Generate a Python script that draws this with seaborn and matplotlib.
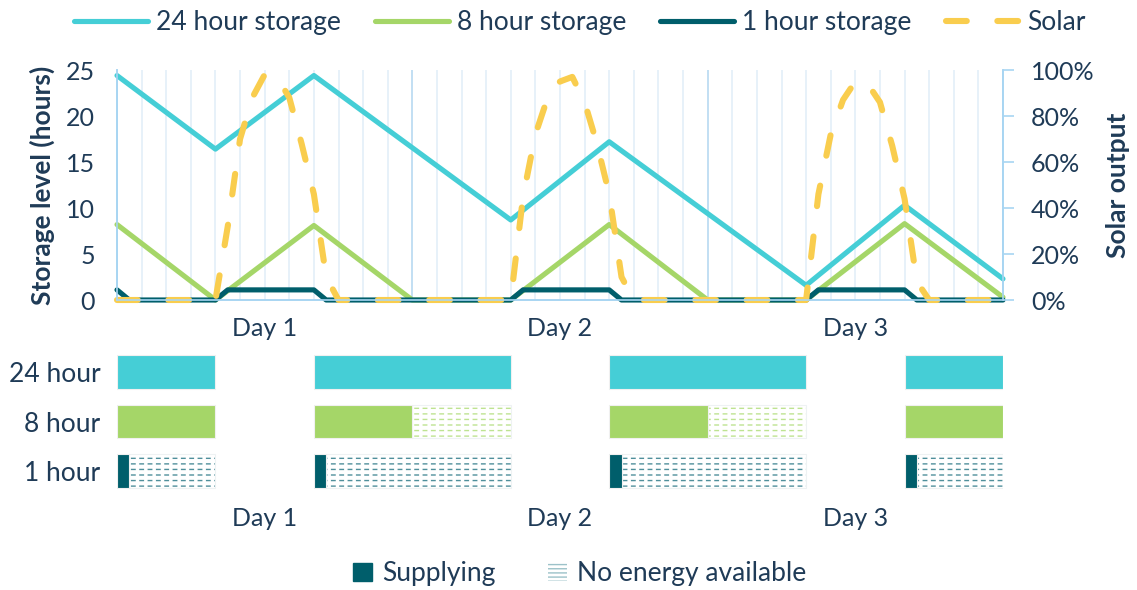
import matplotlib
matplotlib.use("Agg")
import matplotlib.pyplot as plt
from matplotlib.lines import Line2D
from matplotlib.patches import Patch
from matplotlib.ticker import PercentFormatter
import pandas as pd
import seaborn as sns

# storage levels (hours) - breakpoints
h24_hours = [0, 8, 16, 32, 40, 56, 64, 72]
h24_level = [24.4, 16.4, 24.4, 8.7, 17.2, 1.6, 10.3, 2.3]

h8_hours = [0, 8, 16, 24, 32, 40, 48, 56, 64, 72]
h8_level = [8.2, 0, 8.1, 0, 0, 8.2, 0, 0, 8.3, 0.3]

h1_hours = [0, 1, 8, 9, 16, 17, 32, 33, 40, 41, 56, 57, 64, 65, 72]
h1_level = [1.1, 0, 0, 1.1, 1.1, 0, 0, 1.1, 1.1, 0, 0, 1.1, 1.1, 0, 0]

# solar output (%)
solar_hours = [0, 8, 9, 10, 11, 12, 13, 14, 15, 16, 17, 18,
               32, 33, 34, 35, 36, 37, 38, 39, 40, 41, 42,
               56, 57, 58, 59, 60, 61, 62, 63, 64, 65, 66, 72]
solar_pct = [0, 0, 32, 70, 88, 98, 97, 88, 68, 46, 10, 0,
             0, 45, 72, 88, 95, 97, 86, 68, 46, 10, 0,
             0, 46, 72, 87, 95, 94, 86, 67, 44, 8, 0, 0]

day_labels = ["Day 1", "Day 2", "Day 3"]
day_mid = [12, 36, 60]
day_edges = [0, 24, 48, 72]

# bottom panel: (start hour, end hour) per row
bar_rows = ["24 hour", "8 hour", "1 hour"]
supply_24 = [(0, 8), (16, 32), (40, 56), (64, 72)]
empty_24 = []
supply_8 = [(0, 8), (16, 24), (40, 48), (64, 72)]
empty_8 = [(24, 32), (48, 56)]
supply_1 = [(0, 1), (16, 17), (40, 41), (64, 65)]
empty_1 = [(1, 8), (17, 32), (41, 56), (65, 72)]

c24 = "#45CED6"
c8 = "#A5D668"
c1 = "#005E6B"
c_solar = "#F9CD4E"
c_text = "#1F3B57"
c_grid = "#E3EFF8"
c_day = "#C3DFF3"
c_spine = "#A8D5F2"

sns.set_theme(style="white")
plt.rcParams["font.family"] = ["Lato", "DejaVu Sans"]
plt.rcParams["text.color"] = c_text
plt.rcParams["axes.labelcolor"] = c_text
plt.rcParams["xtick.color"] = c_text
plt.rcParams["ytick.color"] = c_text
plt.rcParams["hatch.linewidth"] = 1.0

fs = 18
fs_big = 19

fig = plt.figure(figsize=(11.37, 5.9), dpi=100)
ax = fig.add_axes([117 / 1137, 1 - 300 / 590, 886 / 1137, 230 / 590])
ax2 = ax.twinx()
axb = fig.add_axes([117 / 1137, 1 - 496 / 590, 886 / 1137, 149 / 590])

df = pd.concat([
    pd.DataFrame({"hour": h24_hours, "level": h24_level, "series": "24 hour storage"}),
    pd.DataFrame({"hour": h8_hours, "level": h8_level, "series": "8 hour storage"}),
    pd.DataFrame({"hour": h1_hours, "level": h1_level, "series": "1 hour storage"}),
])
palette = {"24 hour storage": c24, "8 hour storage": c8, "1 hour storage": c1}

# light 2-hour grid and darker day separators
for h in range(0, 73, 2):
    ax.axvline(h, color=c_grid, lw=1.2, zorder=0)
for h in day_edges:
    ax.axvline(h, color=c_day, lw=1.4, zorder=0)

sns.lineplot(data=df, x="hour", y="level", hue="series", palette=palette,
             hue_order=list(palette), linewidth=3.7, legend=False, ax=ax,
             clip_on=False, zorder=3)

sns.lineplot(x=solar_hours, y=solar_pct, ax=ax2, color=c_solar, linewidth=4.4,
             linestyle=(0, (3.4, 5.0)), dash_capstyle="round", clip_on=False)

ax.set_xlim(0, 72)
ax.set_ylim(0, 25)
ax2.set_ylim(0, 100)
ax.set_yticks(range(0, 26, 5))
ax2.set_yticks(range(0, 101, 20))
ax2.yaxis.set_major_formatter(PercentFormatter(100, decimals=0))

ax.set_xticks(day_mid)
ax.set_xticklabels(day_labels, fontsize=fs)
ax.set_xticks(day_edges, minor=True)
ax.tick_params(axis="x", which="major", length=0, pad=12)
ax.tick_params(axis="x", which="minor", length=8, color=c_spine, width=1.2)
ax.tick_params(axis="y", length=0, pad=16, labelsize=fs)
ax2.tick_params(axis="y", length=8, color=c_spine, width=1.2, pad=12,
                labelsize=fs, direction="out")

ax.set_xlabel("")
ax.set_ylabel("Storage level (hours)", fontsize=fs_big, fontweight="bold", labelpad=8)
ax2.set_ylabel("Solar output", fontsize=fs_big, fontweight="bold", labelpad=8)
ax.grid(False)
ax2.grid(False)

for a in (ax, ax2):
    a.spines["top"].set_visible(False)
    for s in ("left", "right", "bottom"):
        a.spines[s].set_color(c_spine)
        a.spines[s].set_linewidth(1.2)

# bottom status bars
row_colors = [c24, c8, c1]
hatch_colors = ["#9FE2E6", "#BEE391", "#4F8F9B"]
supply = [supply_24, supply_8, supply_1]
empty = [empty_24, empty_8, empty_1]


def dashed_bar(a, y, width, left, color):
    # horizontal hatch lines, broken into dashes by a white vertical hatch
    a.barh(y, width, left=left, height=0.68, color="white",
           edgecolor=color, linewidth=0, hatch="---")
    with plt.rc_context({"hatch.linewidth": 2.5}):
        a.barh(y, width, left=left, height=0.68, color="none",
               edgecolor="white", linewidth=0, hatch="||")
    a.barh(y, width, left=left, height=0.68, color="none",
           edgecolor="#EEF2F3", linewidth=0.8)


for i in range(3):
    for s, e in supply[i]:
        axb.barh(i, e - s, left=s, height=0.68, color=row_colors[i],
                 edgecolor="#F0F0F0", linewidth=0.8, zorder=3)
    for s, e in empty[i]:
        dashed_bar(axb, i, e - s, s, hatch_colors[i])

axb.set_xlim(0, 72)
axb.set_ylim(2.5, -0.5)
axb.set_yticks(range(3))
axb.set_yticklabels(bar_rows, fontsize=fs_big)
axb.set_xticks(day_mid)
axb.set_xticklabels(day_labels, fontsize=fs)
axb.tick_params(axis="both", length=0)
axb.tick_params(axis="y", pad=12)
axb.tick_params(axis="x", pad=8)
for s in axb.spines.values():
    s.set_visible(False)

top_handles = [
    Line2D([], [], color=c24, lw=3.7),
    Line2D([], [], color=c8, lw=3.7),
    Line2D([], [], color=c1, lw=3.7),
    Line2D([], [], color=c_solar, lw=4.4, ls=(0, (3.4, 5.0)), dash_capstyle="round"),
]
fig.legend(top_handles, ["24 hour storage", "8 hour storage", "1 hour storage", "Solar"],
           loc="center", bbox_to_anchor=(0.51, 0.962), ncol=4, frameon=False,
           fontsize=fs_big, handlelength=2.8, handletextpad=0.3, columnspacing=1.3)

with plt.rc_context({"hatch.linewidth": 1.0}):
    bottom_handles = [
        Patch(facecolor=c1, edgecolor=c1),
        Patch(facecolor="white", edgecolor="#9CC2C9", linewidth=0, hatch="----"),
    ]
fig.legend(bottom_handles, ["Supplying", "No energy available"],
           loc="center", bbox_to_anchor=(0.51, 0.028), ncol=2, frameon=False,
           fontsize=fs_big, handlelength=0.7, handleheight=0.7, handletextpad=0.4,
           columnspacing=2.0)

fig.savefig("out.png", dpi=100)
